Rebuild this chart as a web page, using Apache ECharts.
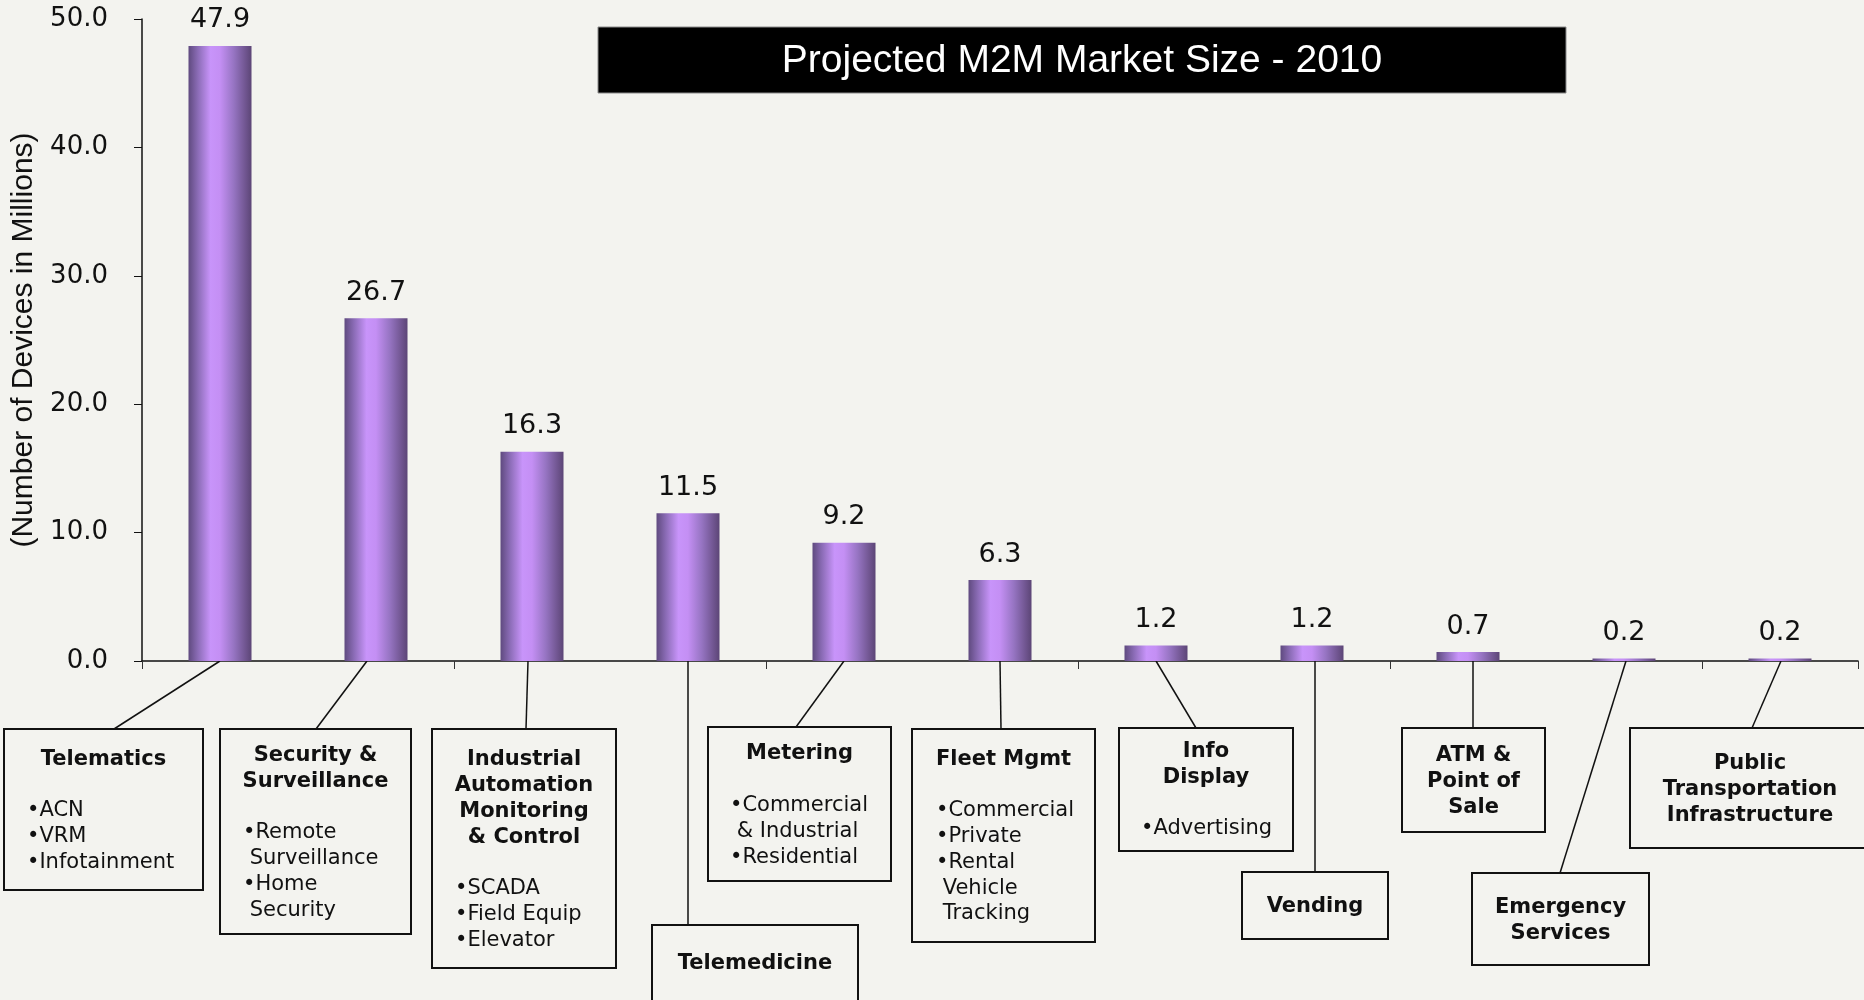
<!DOCTYPE html>
<html>
<head>
<meta charset="utf-8">
<title>Projected M2M Market Size - 2010</title>
<script src="https://cdn.jsdelivr.net/npm/echarts@6/dist/echarts.min.js"></script>
<style>
  html, body { margin: 0; padding: 0; background: #f3f3ef; }
  #chart { width: 1864px; height: 1000px; }
</style>
</head>
<body>
<div id="chart"></div>
<script>
const categories = ['Telematics', 'Security & Surveillance', 'Industrial Automation Monitoring & Control',
  'Telemedicine', 'Metering', 'Fleet Mgmt', 'Info Display', 'Vending', 'ATM & Point of Sale',
  'Emergency Services', 'Public Transportation Infrastructure'];
const devices = [47.9, 26.7, 16.3, 11.5, 9.2, 6.3, 1.2, 1.2, 0.7, 0.2, 0.2];
const yTicks = [0, 10, 20, 30, 40, 50];

// callout text, one entry per category
const headings = [
  ['Telematics'], ['Security &', 'Surveillance'], ['Industrial', 'Automation', 'Monitoring', '& Control'],
  ['Telemedicine'], ['Metering'], ['Fleet Mgmt'], ['Info', 'Display'], ['Vending'],
  ['ATM &', 'Point of', 'Sale'], ['Emergency', 'Services'], ['Public', 'Transportation', 'Infrastructure']
];
const bullets = [
  ['•ACN', '•VRM', '•Infotainment'],
  ['•Remote', ' Surveillance', '•Home', ' Security'],
  ['•SCADA', '•Field Equip', '•Elevator'],
  [],
  ['•Commercial', ' & Industrial', '•Residential'],
  ['•Commercial', '•Private', '•Rental', ' Vehicle', ' Tracking'],
  ['•Advertising'],
  [], [], [], []
];

// callout layout: box [x, y, w, h], first heading line y, first bullet line y, bullet x,
// x where the leader meets the box, offset of the leader from the bar centre on the axis
const boxes = [
  [4, 729, 199, 161], [220, 729, 191, 205], [432, 729, 184, 239], [652, 925, 206, 90],
  [708, 727, 183, 154], [912, 729, 183, 213], [1119, 728, 174, 123], [1242, 872, 146, 67],
  [1402, 728, 143, 104], [1472, 873, 177, 92], [1630, 728, 240, 120]
];
const headY = [760, 756, 760, 964, 754, 760, 752, 907, 756, 908, 764];
const bulletY = [811, 833, 889, 0, 806, 811, 829, 0, 0, 0, 0];
const bulletX = [27, 243, 455, 0, 730, 936, 1141, 0, 0, 0, 0];
const leaderTopX = [114, 316, 526, 688, 796, 1001, 1196, 1315, 1473, 1560, 1752];
const leaderDx = [0, -9, -4, 0, 0, 0, 0, 3, 5, 2, 1];
const LINE = 25.7;

const chart = echarts.init(document.getElementById('chart'));

const barGradient = new echarts.graphic.LinearGradient(0, 0, 1, 0, [
  { offset: 0, color: '#5f4a7f' },
  { offset: 0.15, color: '#8b6cb6' },
  { offset: 0.35, color: '#c894fa' },
  { offset: 0.5, color: '#c48ff4' },
  { offset: 0.72, color: '#9674c2' },
  { offset: 1, color: '#5c4576' }
]);

chart.setOption({
  backgroundColor: '#f3f3ef',
  animation: false,
  grid: { left: 142, right: 6, top: 19, bottom: 339, containLabel: false, outerBoundsMode: 'none' },
  xAxis: {
    type: 'category',
    data: categories,
    axisLine: { lineStyle: { color: '#111', width: 1.5 } },
    axisTick: { show: true, alignWithLabel: false, length: 8, lineStyle: { color: '#333' } },
    axisLabel: { show: false }
  },
  yAxis: {
    type: 'value',
    min: yTicks[0],
    max: yTicks[yTicks.length - 1],
    interval: 10,
    name: '(Number of Devices in Millions)',
    nameLocation: 'middle',
    nameRotate: 90,
    nameGap: 103,
    nameTextStyle: { fontFamily: 'Liberation Sans', fontSize: 30, color: '#111' },
    axisLine: { show: true, lineStyle: { color: '#111', width: 1.5 } },
    axisTick: { show: true, length: 8, lineStyle: { color: '#111' } },
    axisLabel: {
      margin: 34,
      fontFamily: 'DejaVu Sans',
      fontSize: 26,
      color: '#111',
      formatter: v => v.toFixed(1)
    },
    splitLine: { show: false }
  },
  series: [{
    type: 'bar',
    data: devices,
    barWidth: 63,
    itemStyle: { color: barGradient },
    label: {
      show: true,
      position: 'top',
      distance: 12,
      fontFamily: 'DejaVu Sans',
      fontSize: 27,
      color: '#111',
      formatter: p => p.value.toFixed(1)
    }
  }]
});

// title bar and callouts
const graphics = [
  {
    type: 'rect',
    shape: { x: 598, y: 27, width: 968, height: 66 },
    style: { fill: '#000', stroke: '#8a8a8a', lineWidth: 1 }
  },
  {
    type: 'text',
    style: {
      x: 1082, y: 61, text: 'Projected M2M Market Size - 2010',
      fill: '#fff', font: '39px "Liberation Sans"', align: 'center', verticalAlign: 'middle'
    }
  }
];

const axisY = chart.convertToPixel({ yAxisIndex: 0 }, 0);
categories.forEach((c, i) => {
  const [bx, by, bw, bh] = boxes[i];
  const cx = chart.convertToPixel({ xAxisIndex: 0 }, i);
  graphics.push({
    type: 'line',
    shape: { x1: cx + leaderDx[i], y1: axisY, x2: leaderTopX[i], y2: by },
    style: { stroke: '#111', lineWidth: 1.5 }
  });
  graphics.push({
    type: 'rect',
    shape: { x: bx, y: by, width: bw, height: bh },
    style: { fill: 'rgba(0,0,0,0)', stroke: '#111', lineWidth: 2 }
  });
  headings[i].forEach((t, k) => {
    graphics.push({
      type: 'text',
      style: {
        x: bx + bw / 2, y: headY[i] + k * LINE, text: t,
        fill: '#111', font: 'bold 21px "DejaVu Sans"', align: 'center', verticalAlign: 'middle'
      }
    });
  });
  bullets[i].forEach((t, k) => {
    graphics.push({
      type: 'text',
      style: {
        x: bulletX[i], y: bulletY[i] + k * LINE, text: t,
        fill: '#111', font: '21px "DejaVu Sans"', align: 'left', verticalAlign: 'middle'
      }
    });
  });
});

chart.setOption({ graphic: graphics });
</script>
</body>
</html>
